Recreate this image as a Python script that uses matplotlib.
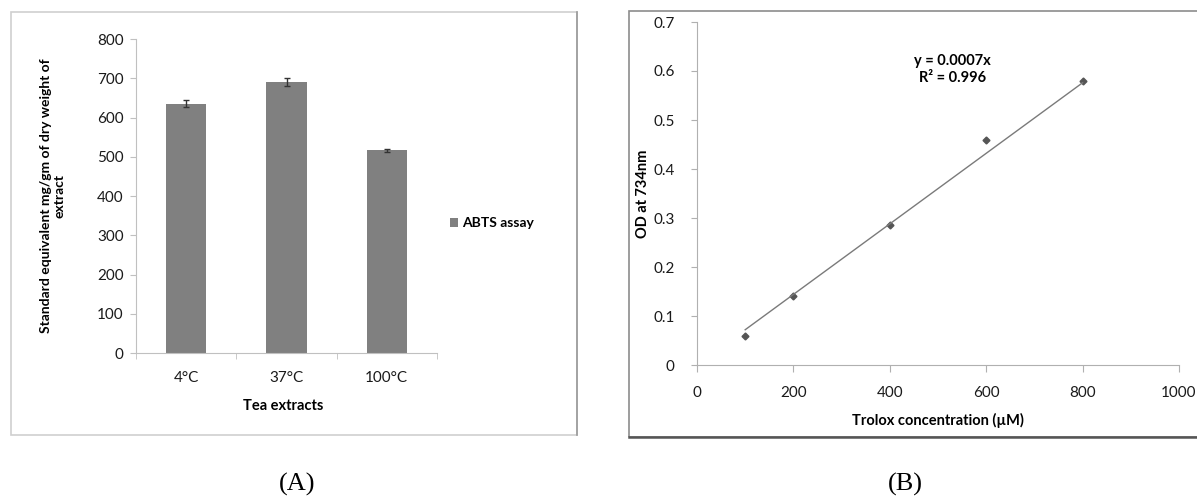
import numpy as np
import matplotlib
matplotlib.use('Agg')
import matplotlib.pyplot as plt
from matplotlib.patches import Rectangle
from matplotlib.lines import Line2D

# ---------- data ----------
CATEGORIES = ['4°C', '37°C', '100°C']
ABTS = [635, 690, 516]
ABTS_ERR = [9, 11, 3]

TROLOX = [100, 200, 400, 600, 800]
OD = [0.06, 0.14, 0.285, 0.46, 0.58]
TREND_SLOPE = 0.00072   # trendline drawn by Excel (y = 0.0007x)

plt.rcParams['font.family'] = ['Lato', 'DejaVu Sans']
W, H = 1197, 498
fig = plt.figure(figsize=(W / 100, H / 100), dpi=100)


def fbox(x0, y0, x1, y1):
    # pixel box -> figure fraction [left, bottom, width, height]
    return [x0 / W, 1 - y1 / H, (x1 - x0) / W, (y1 - y0) / H]


# outer frames
fig.patches.append(Rectangle((11 / W, 1 - 435 / H), 566 / W, 423 / H, transform=fig.transFigure,
                             fill=False, edgecolor='#cfcfcf', linewidth=1.2))
fig.add_artist(Line2D([577 / W, 577 / W], [1 - 435 / H, 1 - 12 / H], color='#9a9a9a', lw=1.2))
fig.patches.append(Rectangle((629 / W, 1 - 437 / H), 600 / W, 426 / H, transform=fig.transFigure,
                             fill=False, edgecolor='#8c8c8c', linewidth=1.2))
fig.add_artist(Line2D([629 / W, 1.0], [1 - 437 / H, 1 - 437 / H], color='#555555', lw=1.8))

TICK_KW = dict(labelsize=11, labelcolor='#1a1a1a')

# ---------- (A) bar chart ----------
ax1 = fig.add_axes(fbox(136, 39, 437, 353))
x = np.arange(len(CATEGORIES))
ax1.bar(x, ABTS, width=0.4, color='#808080', label='ABTS assay')
ax1.errorbar(x, ABTS, yerr=ABTS_ERR, fmt='none', ecolor='#333333', elinewidth=1, capsize=2)
ax1.set_xlim(-0.5, 2.5)
ax1.set_ylim(0, 800)
ax1.set_yticks(range(0, 801, 100))
ax1.set_xticks(x)
ax1.set_xticklabels(CATEGORIES)
ax1.set_xticks([-0.5, 0.5, 1.5, 2.5], minor=True)
ax1.tick_params(axis='x', which='major', length=0, pad=13, **TICK_KW)
ax1.tick_params(axis='x', which='minor', length=4, color='#c0c0c0')
ax1.tick_params(axis='y', length=4, color='#c0c0c0', pad=5, **TICK_KW)
for s in ['top', 'right']:
    ax1.spines[s].set_visible(False)
for s in ['left', 'bottom']:
    ax1.spines[s].set_color('#c0c0c0')
ax1.set_xlabel('Tea extracts', fontsize=10.5, fontweight='bold')
ax1.xaxis.set_label_coords(0.49, -0.145)
ax1.set_ylabel('Standard equivalent mg/gm of dry weight of\nextract', fontsize=10, fontweight='bold',
               linespacing=1.15)
ax1.yaxis.set_label_coords(-0.235, 0.5)
ax1.legend(loc='center left', bbox_to_anchor=(1.0, 0.414), frameon=False,
           prop={'size': 10, 'weight': 'bold'},
           handlelength=0.6, handleheight=0.6, handletextpad=0.3)

# ---------- (B) standard curve ----------
ax2 = fig.add_axes(fbox(697, 22, 1179, 365))
tx = np.array(TROLOX)
ax2.plot(tx, OD, 'D', color='#555555', markersize=3.5)
ax2.plot([tx.min(), tx.max()], [TREND_SLOPE * tx.min(), TREND_SLOPE * tx.max()],
         color='#7a7a7a', linewidth=1)
ax2.set_xlim(0, 1000)
ax2.set_ylim(0, 0.7)
ax2.set_xticks(range(0, 1001, 200))
ax2.set_yticks(np.arange(0, 0.71, 0.1))
ax2.set_yticklabels(['0', '0.1', '0.2', '0.3', '0.4', '0.5', '0.6', '0.7'])
ax2.tick_params(axis='x', length=5, color='#b0b0b0', pad=10, **TICK_KW)
ax2.tick_params(axis='y', length=4, color='#b0b0b0', pad=12, **TICK_KW)
for s in ['top', 'right']:
    ax2.spines[s].set_visible(False)
for s in ['left', 'bottom']:
    ax2.spines[s].set_color('#b0b0b0')
ax2.set_xlabel('Trolox concentration (µM)', fontsize=10.5, fontweight='bold')
ax2.xaxis.set_label_coords(0.5, -0.14)
ax2.set_ylabel('OD at 734nm', fontsize=10.5, fontweight='bold')
ax2.yaxis.set_label_coords(-0.098, 0.5)
ax2.text(530, 0.603, 'y = 0.0007x\nR² = 0.996', ha='center', va='center', fontsize=10.5,
         fontweight='bold', linespacing=1.2)

# panel labels
fig.text(297 / W, 1 - 484 / H, '(A)', ha='center', va='center', fontsize=19, family='Liberation Serif')
fig.text(905 / W, 1 - 484 / H, '(B)', ha='center', va='center', fontsize=19, family='Liberation Serif')

fig.savefig('out.png', dpi=100)
